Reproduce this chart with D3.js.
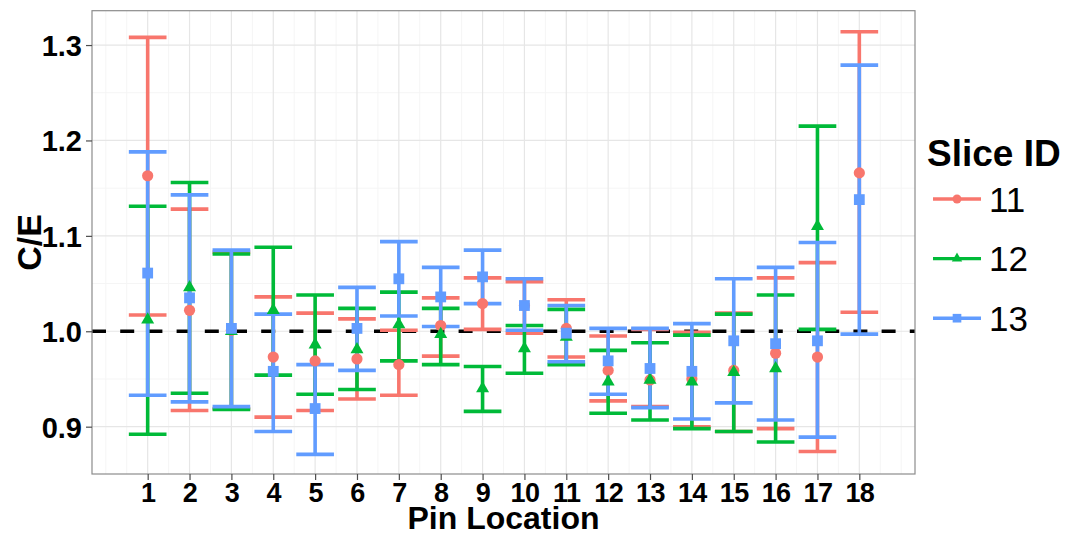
<!DOCTYPE html>
<html>
<head>
<meta charset="utf-8">
<script src="https://cdn.jsdelivr.net/npm/d3@7"></script>
<style>
  html, body { margin: 0; padding: 0; background: #ffffff; }
  svg { display: block; }
  text { font-family: "Liberation Sans", Arial, Helvetica, sans-serif; }
</style>
</head>
<body>
<svg id="chart" width="1067" height="535"></svg>
<script>
// Pin locations along the x axis
const pins = [1, 2, 3, 4, 5, 6, 7, 8, 9, 10, 11, 12, 13, 14, 15, 16, 17, 18];

// Slice 11: C/E mean and error-bar limits per pin
const s11Mean = [1.163, 1.022, 1.001, 0.973, 0.969, 0.971, 0.965, 1.006, 1.029, 1.027, 1.003, 0.959, 0.949, 0.950, 0.959, 0.977, 0.973, 1.166];
const s11Low  = [1.017, 0.917, 0.919, 0.910, 0.917, 0.929, 0.933, 0.974, 1.002, 0.998, 0.973, 0.927, 0.921, 0.900, 0.895, 0.898, 0.874, 1.020];
const s11High = [1.308, 1.128, 1.083, 1.036, 1.019, 1.013, 1.001, 1.035, 1.056, 1.052, 1.033, 0.995, 1.002, 0.999, 1.019, 1.056, 1.072, 1.314];

// Slice 12 (no measurement at pin 18)
const s12Mean = [1.012, 1.046, 1.000, 1.022, 0.986, 0.981, 1.007, 0.997, 0.940, 0.982, 0.994, 0.947, 0.949, 0.947, 0.957, 0.961, 1.110, null];
const s12Low  = [0.892, 0.935, 0.918, 0.954, 0.934, 0.939, 0.969, 0.965, 0.916, 0.956, 0.965, 0.914, 0.907, 0.898, 0.895, 0.884, 1.002, null];
const s12High = [1.131, 1.156, 1.081, 1.088, 1.038, 1.024, 1.041, 1.024, 0.963, 1.006, 1.023, 0.980, 0.988, 0.996, 1.018, 1.038, 1.215, null];

// Slice 13
const s13Mean = [1.061, 1.035, 1.003, 0.958, 0.919, 1.003, 1.055, 1.036, 1.057, 1.027, 0.998, 0.969, 0.961, 0.958, 0.990, 0.987, 0.990, 1.138];
const s13Low  = [0.933, 0.926, 0.921, 0.895, 0.871, 0.959, 1.016, 1.005, 1.029, 1.001, 0.968, 0.934, 0.920, 0.908, 0.925, 0.907, 0.889, 0.997];
const s13High = [1.188, 1.143, 1.085, 1.018, 0.965, 1.046, 1.094, 1.067, 1.085, 1.055, 1.027, 1.003, 1.003, 1.008, 1.055, 1.067, 1.093, 1.279];

const sliceIds = ["11", "12", "13"];
const yTicks = [0.9, 1.0, 1.1, 1.2, 1.3];
const yMinor = [0.95, 1.05, 1.15, 1.25];
const referenceLevel = 1.0;

const colors = { "11": "#F8766D", "12": "#00BA38", "13": "#619CFF" };
const shapes = { "11": "circle", "12": "triangle", "13": "square" };

const series = [
  { id: "11", mean: s11Mean, low: s11Low, high: s11High },
  { id: "12", mean: s12Mean, low: s12Low, high: s12High },
  { id: "13", mean: s13Mean, low: s13Low, high: s13High }
].map(s => ({
  id: s.id,
  rows: pins.map((p, i) => ({ pin: p, mean: s.mean[i], low: s.low[i], high: s.high[i] }))
               .filter(r => r.mean !== null)
}));

const svg = d3.select("#chart");
const panel = { left: 92, right: 915, top: 10.7, bottom: 474 };

const x = d3.scaleLinear().domain([-0.33, 19.33]).range([panel.left, panel.right]);
const y = d3.scaleLinear().domain([0.8504, 1.336]).range([panel.bottom, panel.top]);

// Panel background and grid
svg.append("rect")
  .attr("x", panel.left).attr("y", panel.top)
  .attr("width", panel.right - panel.left).attr("height", panel.bottom - panel.top)
  .attr("fill", "#ffffff");

const xMinor = [0, 19].concat(pins.map(p => p - 0.5), [18.5]);
const grid = svg.append("g");
grid.selectAll(".xminor").data(xMinor).join("line")
  .attr("x1", d => x(d)).attr("x2", d => x(d))
  .attr("y1", panel.top).attr("y2", panel.bottom)
  .attr("stroke", "#f5f5f5").attr("stroke-width", 1);
grid.selectAll(".yminor").data(yMinor).join("line")
  .attr("x1", panel.left).attr("x2", panel.right)
  .attr("y1", d => y(d)).attr("y2", d => y(d))
  .attr("stroke", "#f5f5f5").attr("stroke-width", 1);
grid.selectAll(".xmajor").data(pins).join("line")
  .attr("x1", d => x(d)).attr("x2", d => x(d))
  .attr("y1", panel.top).attr("y2", panel.bottom)
  .attr("stroke", "#e6e6e6").attr("stroke-width", 1.2);
grid.selectAll(".ymajor").data(yTicks).join("line")
  .attr("x1", panel.left).attr("x2", panel.right)
  .attr("y1", d => y(d)).attr("y2", d => y(d))
  .attr("stroke", "#e6e6e6").attr("stroke-width", 1.2);

// Reference line at C/E = 1
svg.append("line")
  .attr("x1", panel.left).attr("x2", panel.right)
  .attr("y1", y(referenceLevel)).attr("y2", y(referenceLevel))
  .attr("stroke", "#000000").attr("stroke-width", 3.6)
  .attr("stroke-dasharray", "14,14.2");

// Error bars
const capHalf = 0.45;
const barW = 3.6;
series.forEach(s => {
  const g = svg.append("g").attr("stroke", colors[s.id]).attr("stroke-width", barW);
  g.selectAll(".v").data(s.rows).join("line")
    .attr("x1", d => x(d.pin)).attr("x2", d => x(d.pin))
    .attr("y1", d => y(d.low)).attr("y2", d => y(d.high));
  g.selectAll(".hi").data(s.rows).join("line")
    .attr("x1", d => x(d.pin - capHalf)).attr("x2", d => x(d.pin + capHalf))
    .attr("y1", d => y(d.high)).attr("y2", d => y(d.high));
  g.selectAll(".lo").data(s.rows).join("line")
    .attr("x1", d => x(d.pin - capHalf)).attr("x2", d => x(d.pin + capHalf))
    .attr("y1", d => y(d.low)).attr("y2", d => y(d.low));
});

// Point markers
function drawMarker(g, shape, cx, cy, color, scale) {
  if (shape === "circle") {
    g.append("circle").attr("cx", cx).attr("cy", cy).attr("r", 5.6 * scale).attr("fill", color);
  } else if (shape === "square") {
    const h = 5.4 * scale;
    g.append("rect").attr("x", cx - h).attr("y", cy - h).attr("width", 2 * h).attr("height", 2 * h).attr("fill", color);
  } else {
    const s = 13 * scale, hgt = s * Math.sqrt(3) / 2;
    g.append("path")
      .attr("d", `M${cx},${cy - hgt * 2 / 3}L${cx + s / 2},${cy + hgt / 3}L${cx - s / 2},${cy + hgt / 3}Z`)
      .attr("fill", color);
  }
}
series.forEach(s => {
  const g = svg.append("g");
  s.rows.forEach(d => drawMarker(g, shapes[s.id], x(d.pin), y(d.mean), colors[s.id], 1));
});

// Panel border
svg.append("rect")
  .attr("x", panel.left).attr("y", panel.top)
  .attr("width", panel.right - panel.left).attr("height", panel.bottom - panel.top)
  .attr("fill", "none").attr("stroke", "#8c8c8c").attr("stroke-width", 1.2);

// Axes
const yAxis = svg.append("g")
  .attr("transform", `translate(${panel.left},0)`)
  .call(d3.axisLeft(y).tickValues(yTicks).tickFormat(d3.format(".1f")).tickSize(6).tickPadding(4));
const xAxis = svg.append("g")
  .attr("transform", `translate(0,${panel.bottom})`)
  .call(d3.axisBottom(x).tickValues(pins).tickFormat(d3.format("d")).tickSize(6).tickPadding(3));
[yAxis, xAxis].forEach(a => {
  a.select(".domain").remove();
  a.selectAll(".tick line").attr("stroke", "#4d4d4d").attr("stroke-width", 1.2);
  a.selectAll(".tick text")
    .attr("fill", "#000000")
    .style("font-family", "'Liberation Sans', Arial, sans-serif")
    .style("font-weight", "bold");
});
yAxis.selectAll(".tick text").attr("dy", "0.36em").style("font-size", "29px");
xAxis.selectAll(".tick text").attr("dy", "0.7em").style("font-size", "27px").style("letter-spacing", "-0.6px");

// Axis titles
svg.append("text")
  .attr("x", (panel.left + panel.right) / 2).attr("y", 529)
  .attr("text-anchor", "middle")
  .style("font-weight", "bold").style("font-size", "32px")
  .text("Pin Location");
svg.append("text")
  .attr("transform", `translate(41,${(panel.top + panel.bottom) / 2}) rotate(-90)`)
  .attr("text-anchor", "middle")
  .style("font-weight", "bold").style("font-size", "34px")
  .text("C/E");

// Legend
const legend = svg.append("g");
legend.append("text")
  .attr("x", 927).attr("y", 166)
  .style("font-weight", "bold").style("font-size", "37px")
  .text("Slice ID");
sliceIds.forEach((id, i) => {
  const ky = 199 + i * 59.6;
  legend.append("line")
    .attr("x1", 933).attr("x2", 981).attr("y1", ky).attr("y2", ky)
    .attr("stroke", colors[id]).attr("stroke-width", 3.4);
  drawMarker(legend, shapes[id], 957, ky, colors[id], 0.8);
  legend.append("text")
    .attr("x", 989).attr("y", ky + 12.5)
    .style("font-size", "35px")
    .text(id);
});
</script>
</body>
</html>
